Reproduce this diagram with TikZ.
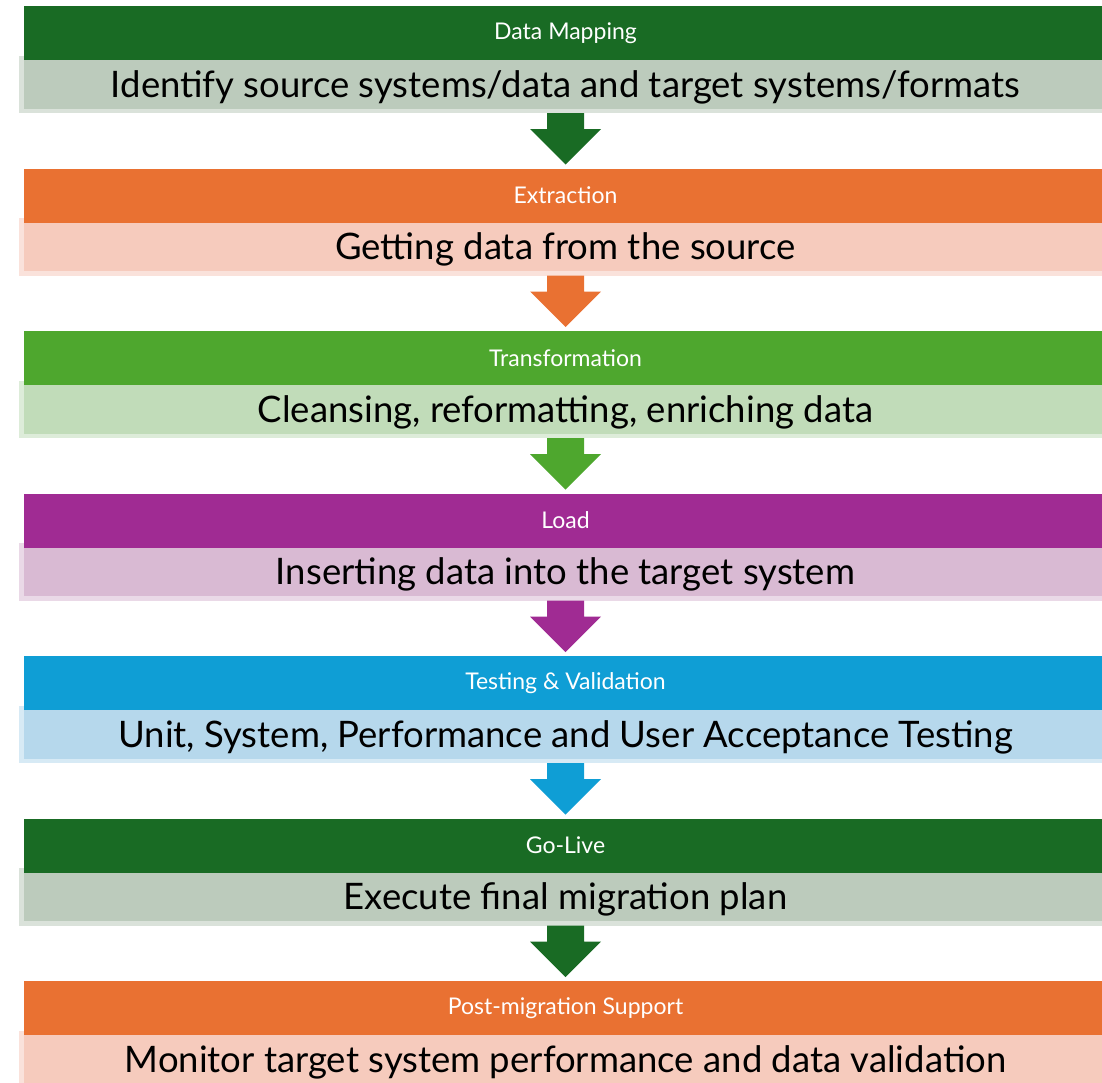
\documentclass[tikz,border=0pt]{standalone}
\usepackage{fontspec}
\setmainfont{Lato}
\usetikzlibrary{positioning,calc}
\pgfdeclarelayer{bg}
\pgfsetlayers{bg,main}

\definecolor{stgreen}{HTML}{196B24}
\definecolor{storange}{HTML}{E97132}
\definecolor{stlime}{HTML}{4EA72E}
\definecolor{stpurple}{HTML}{A02B93}
\definecolor{stblue}{HTML}{0F9ED5}
\definecolor{ltgreen}{HTML}{BCCBBC}
\definecolor{ltorange}{HTML}{F6CBBD}
\definecolor{ltlime}{HTML}{C1DCB9}
\definecolor{ltpurple}{HTML}{D9BAD3}
\definecolor{ltblue}{HTML}{B6D8EC}

\tikzset{
  headbox/.style = {fill=#1, text=white, minimum width=1083pt, minimum height=54pt,
                    inner sep=0pt, outer sep=0pt, font=\fontsize{23}{27}\selectfont},
  descbox/.style = {fill=#1, preaction={draw=#1!55!white, fill=none, line width=9pt},
                    minimum width=1084pt, minimum height=48.5pt, inner sep=0pt, outer sep=0pt,
                    text height=26pt, text depth=0pt, font=\fontsize{36.5}{42}\selectfont},
}

% block arrow from a description box down to the next header
\newcommand{\stagearrow}[3]{%
  \fill[#3] ($(#1.south)+(-18.5,-4.5)$) -- ($(#1.south)+(18.5,-4.5)$)
    -- ($(#1.south)+(18.5,-20.5)$) -- ($(#1.south)+(35.5,-20.5)$)
    -- ($(#2.north)+(0,4)$)
    -- ($(#1.south)+(-35.5,-20.5)$) -- ($(#1.south)+(-18.5,-20.5)$) -- cycle;}

\begin{document}
\begin{tikzpicture}[x=1pt, y=1pt, node distance=60pt]
  \useasboundingbox (0,0) rectangle (1102,-1082);
  \clip (0,0) rectangle (1102,-1082);

  \node[headbox=stgreen] (map) at (565.5,-33) {Data Mapping};
  \begin{pgfonlayer}{bg}
    \node[descbox=ltgreen, below=0pt of map] (mapd) {Identify source systems/data and target systems/formats};
  \end{pgfonlayer}
  \node[headbox=storange, below=of mapd] (ext) {Extraction};
  \begin{pgfonlayer}{bg}
    \node[descbox=ltorange, below=0pt of ext] (extd) {Getting data from the source};
  \end{pgfonlayer}
  \node[headbox=stlime, below=of extd] (trf) {Transformation};
  \begin{pgfonlayer}{bg}
    \node[descbox=ltlime, below=0pt of trf] (trfd) {Cleansing, reformatting, enriching data};
  \end{pgfonlayer}
  \node[headbox=stpurple, below=of trfd] (load) {Load};
  \begin{pgfonlayer}{bg}
    \node[descbox=ltpurple, below=0pt of load] (loadd) {Inserting data into the target system};
  \end{pgfonlayer}
  \node[headbox=stblue, below=of loadd] (test) {Testing \& Validation};
  \begin{pgfonlayer}{bg}
    \node[descbox=ltblue, below=0pt of test] (testd) {Unit, System, Performance and User Acceptance Testing};
  \end{pgfonlayer}
  \node[headbox=stgreen, below=of testd] (live) {Go-Live};
  \begin{pgfonlayer}{bg}
    \node[descbox=ltgreen, below=0pt of live] (lived) {Execute final migration plan};
  \end{pgfonlayer}
  \node[headbox=storange, below=of lived] (post) {Post-migration Support};
  \begin{pgfonlayer}{bg}
    \node[descbox=ltorange, below=0pt of post] (postd) {Monitor target system performance and data validation};
  \end{pgfonlayer}

  \stagearrow{mapd}{ext}{stgreen}
  \stagearrow{extd}{trf}{storange}
  \stagearrow{trfd}{load}{stlime}
  \stagearrow{loadd}{test}{stpurple}
  \stagearrow{testd}{live}{stblue}
  \stagearrow{lived}{post}{stgreen}
\end{tikzpicture}
\end{document}
